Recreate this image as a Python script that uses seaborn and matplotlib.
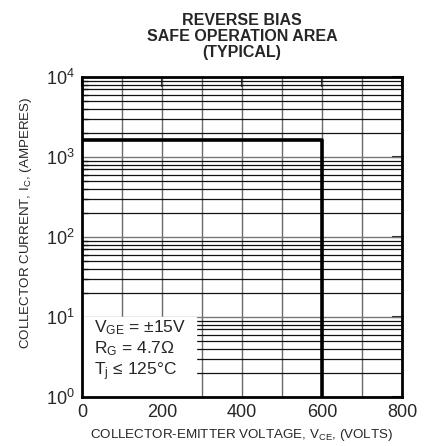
import numpy as np
import pandas as pd
import seaborn as sns
import matplotlib.pyplot as plt
from matplotlib.ticker import FixedLocator, NullFormatter

# RBSOA boundary
vce = [0, 600, 600]
ic = [1650, 1650, 1]

x_ticks = [0, 200, 400, 600, 800]
y_ticks = [1, 10, 100, 1000, 10000]
y_tick_labels = ['$10^0$', '$10^1$', '$10^2$', '$10^3$', '$10^4$']
conditions = ['V$_{\\mathregular{GE}}$ = ±15V', 'R$_{\\mathregular{G}}$ = 4.7Ω', 'T$_{\\mathregular{j}}$ ≤ 125°C']
cond_y = [10 ** 0.87, 10 ** 0.60, 10 ** 0.31]

sns.set_style('white')
plt.rcParams['font.family'] = ['Liberation Sans', 'DejaVu Sans']
plt.rcParams['mathtext.fontset'] = 'custom'
plt.rcParams['mathtext.rm'] = 'Liberation Sans'
plt.rcParams['mathtext.it'] = 'Liberation Sans'

fig = plt.figure(figsize=(4.24, 4.46), dpi=100)
ax = fig.add_axes([0.193, 0.110, 0.755, 0.7175])

ax.set_xlim(0, 800)
ax.set_ylim(1, 10000)
ax.set_yscale('log')

# chart paper grid
for v in range(100, 800, 100):
    ax.axvline(v, color='#6a6a6a', lw=1.0, zorder=1)
for d in [1, 10, 100, 1000]:
    for m in range(2, 10):
        ax.axhline(d * m, color='#111111', lw=0.9, zorder=1)
    if d > 1:
        ax.axhline(d, color='#777777', lw=1.0, zorder=1)

# white box holding the test conditions
ax.fill_between([0, 285], 1, 10, color='white', zorder=2)
for s, yy in zip(conditions, cond_y):
    ax.text(30, yy, s, fontsize=12.5, va='center', ha='left', zorder=3)

df = pd.DataFrame({'vce': vce, 'ic': ic})
sns.lineplot(data=df, x='vce', y='ic', sort=False, estimator=None, color='black',
             lw=2.6, ax=ax, zorder=4)

ax.xaxis.set_major_locator(FixedLocator(x_ticks))
ax.set_xticklabels([str(t) for t in x_ticks], fontsize=13)
ax.yaxis.set_major_locator(FixedLocator(y_ticks))
ax.set_yticklabels(y_tick_labels, fontsize=13)
minors = [d * m for d in [1, 10, 100, 1000] for m in range(2, 10)]
ax.yaxis.set_minor_locator(FixedLocator(minors))
ax.yaxis.set_minor_formatter(NullFormatter())
ax.tick_params(which='major', direction='in', length=7, width=1.5, top=True, right=True, pad=5)
ax.tick_params(which='minor', direction='in', length=4, width=1, left=True, right=False)

for sp in ax.spines.values():
    sp.set_linewidth(2)
    sp.set_color('black')
    sp.set_zorder(5)

ax.set_xlabel('COLLECTOR-EMITTER VOLTAGE, V$_{\\mathregular{CE}}$, (VOLTS)', fontsize=9.6)
ax.xaxis.set_label_coords(0.5, -0.095)
ax.set_ylabel('')
fig.text(0.062, 0.5, 'COLLECTOR CURRENT, I$_{\\mathregular{C}}$, (AMPERES)', fontsize=9.6,
         rotation=90, ha='center', va='center')
ax.set_title('REVERSE BIAS\nSAFE OPERATION AREA\n(TYPICAL)', fontsize=11.5, fontweight='bold',
             linespacing=1.1, pad=14)

fig.savefig('out.png', dpi=100)
